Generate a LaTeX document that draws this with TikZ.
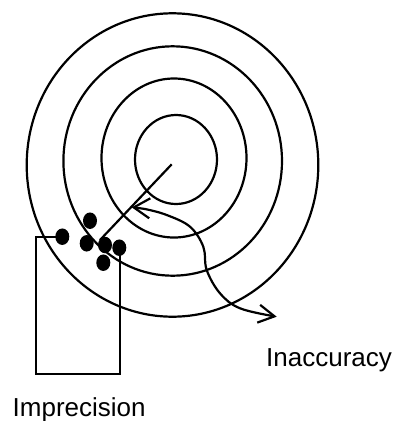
\documentclass[tikz,border=0pt]{standalone}
\usepackage{fontspec}
\setmainfont{Liberation Sans}
\usetikzlibrary{arrows.meta,shapes.geometric}
\begin{document}
\begin{tikzpicture}[x=1pt,y=-1pt,
  ring/.style={line width=2.2pt},
  dot/.style={ellipse,fill=black,inner sep=0pt,minimum width=14pt,minimum height=16.5pt},
  lbl/.style={font=\fontsize{26pt}{30pt}\selectfont,anchor=base west,inner sep=0pt},
  barb/.style={line width=2.2pt,{Straight Barb[length=16pt,width=20pt,line width=2.2pt]}-{Straight Barb[length=16pt,width=18pt,line width=2.2pt]}},
  thin/.style={line width=1.7pt}]
\useasboundingbox (0,0) rectangle (397,421);
% target rings
\draw[ring] (172.5,165) ellipse [x radius=145.8, y radius=151.7];
\draw[ring] (172.7,161) ellipse [x radius=109.3, y radius=114.7];
\draw[ring] (174,158) ellipse [x radius=72.5, y radius=79.5];
\draw[ring] (176,159.5) ellipse [x radius=41, y radius=44.5];
% centre and offset line
\coordinate (ctr) at (171.7,164.3);
\coordinate (lend) at (100,240);
\draw[ring] (ctr) -- (lend);
% inaccuracy curve
\draw[barb] plot[smooth,tension=0.6] coordinates {(131.7,207.3) (145,209) (166.7,215) (190,226.7) (203.3,246.7) (206.7,270) (220,293.3) (240,308.3) (276.7,316.7)};
% imprecision box
\coordinate (rtl) at (36,236.7);
\coordinate (rbl) at (36,374);
\coordinate (rbr) at (120,374);
\coordinate (rtr) at (120,247.7);
% dots
\node[dot] (d1) at (62.3,236.7) {};
\node[dot] (d2) at (90,220.7) {};
\node[dot] (d3) at (86.7,243.3) {};
\node[dot] (d4) at (105,245) {};
\node[dot] (d5) at (119.3,247.7) {};
\node[dot] (d6) at (103.3,262.7) {};
\draw[thin] (d1.center) -- (rtl) -- (rbl) -- (rbr) -- (rtr);
% labels
\node[lbl] (inacc) at (266,366) {Inaccuracy};
\node[lbl] (imprec) at (12.5,416.7) {Imprecision};
\end{tikzpicture}
\end{document}
